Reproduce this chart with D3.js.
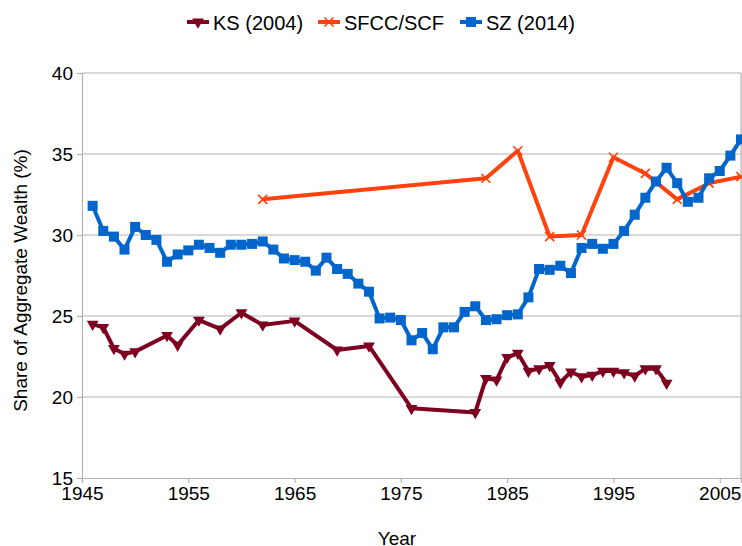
<!DOCTYPE html>
<html><head><meta charset="utf-8">
<script src="https://cdn.jsdelivr.net/npm/d3@7"></script>
<style>body{margin:0;background:#fff}svg{display:block;font-family:"Liberation Sans",Arial,sans-serif}</style>
</head><body><svg id="c" width="742" height="546"></svg>
<script>
const ksYears = [1946,1947,1948,1949,1950,1953,1954,1956,1958,1960,1962,1965,1969,1972,1976,1982,1983,1984,1985,1986,1987,1988,1989,1990,1991,1992,1993,1994,1995,1996,1997,1998,1999,2000];
const ksValues = [24.5,24.3,23.0,22.65,22.8,23.8,23.2,24.75,24.2,25.2,24.45,24.7,22.9,23.15,19.3,19.05,21.15,21.05,22.45,22.7,21.6,21.75,21.95,20.9,21.55,21.25,21.35,21.6,21.6,21.5,21.3,21.75,21.75,20.85];
const scfYears = [1962,1983,1986,1989,1992,1995,1998,2001,2004,2007];
const scfValues = [32.2,33.5,35.2,29.9,30.0,34.8,33.8,32.2,33.2,33.6];
const szYears = d3.range(1946,2008);
const szValues = [31.8,30.25,29.9,29.1,30.5,30.0,29.7,28.35,28.8,29.05,29.4,29.2,28.9,29.4,29.4,29.45,29.6,29.1,28.55,28.45,28.35,27.8,28.6,27.9,27.6,27.0,26.5,24.85,24.9,24.75,23.5,23.95,22.95,24.3,24.3,25.25,25.6,24.75,24.8,25.05,25.1,26.15,27.9,27.85,28.1,27.65,29.2,29.45,29.15,29.45,30.25,31.25,32.3,33.3,34.15,33.2,32.05,32.3,33.5,33.95,34.9,35.9];
const xTicks = [1945,1955,1965,1975,1985,1995,2005];
const yTicks = [15,20,25,30,35,40];
const seriesNames = ["KS (2004)","SFCC/SCF","SZ (2014)"];
const colors = ["#7e0021","#ff420e","#0066cc"];

const svg = d3.select("#c");
const L=82, R=741, T=73, B=478;
const x = d3.scaleLinear().domain([1945,2007]).range([L,R]);
const y = d3.scaleLinear().domain([15,40]).range([B,T]);

// grid
svg.append("g").selectAll("line").data(yTicks.filter(v=>v>15)).join("line")
  .attr("x1",L).attr("x2",R).attr("y1",d=>y(d)).attr("y2",d=>y(d))
  .attr("stroke","#b3b3b3").attr("stroke-width",1.2);
svg.append("line").attr("x1",R).attr("x2",R).attr("y1",T).attr("y2",B)
  .attr("stroke","#b3b3b3").attr("stroke-width",1.2);

// axes
const xAxis = svg.append("g").attr("transform",`translate(0,${B})`)
  .call(d3.axisBottom(x).tickValues(xTicks).tickFormat(d3.format("d")).tickSizeOuter(0).tickSize(5).tickPadding(4));
const yAxis = svg.append("g").attr("transform",`translate(${L},0)`)
  .call(d3.axisLeft(y).tickValues(yTicks).tickSizeOuter(0).tickSize(5).tickPadding(4));
[xAxis,yAxis].forEach(a=>{
  a.select(".domain").attr("stroke","#b3b3b3").attr("stroke-width",1.2);
  a.selectAll(".tick line").attr("stroke","#b3b3b3").attr("stroke-width",1.2);
  a.selectAll("text").attr("font-size",19).attr("fill","#000").attr("font-family","Liberation Sans, Arial, sans-serif");
});
yAxis.selectAll("text").attr("x",-9);

// axis titles
svg.append("text").attr("x",397).attr("y",545).attr("text-anchor","middle")
  .attr("font-size",19).text("Year");
svg.append("text").attr("transform",`translate(27,${(T+B)/2+5}) rotate(-90)`).attr("text-anchor","middle")
  .attr("font-size",19).text("Share of Aggregate Wealth (%)");

const line = d3.line().x(d=>x(d[0])).y(d=>y(d[1]));
const sets = [
  d3.zip(ksYears,ksValues),
  d3.zip(scfYears,scfValues),
  d3.zip(szYears,szValues)
];
const plot = svg.append("g");
const tri = d3.symbol().type(d3.symbolTriangle).size(60);
function marker(g,i,cx,cy){
  if(i===0){
    g.append("path").attr("d",tri()).attr("transform",`translate(${cx},${cy}) rotate(180)`).attr("fill",colors[0]);
  } else if(i===1){
    const s=4.5;
    g.append("path").attr("d",`M${cx-s},${cy-s}L${cx+s},${cy+s}M${cx-s},${cy+s}L${cx+s},${cy-s}`)
      .attr("stroke",colors[1]).attr("stroke-width",1.6).attr("fill","none");
  } else {
    g.append("rect").attr("x",cx-5).attr("y",cy-5).attr("width",10).attr("height",10).attr("fill",colors[2]);
  }
}
sets.forEach((data,i)=>{
  plot.append("path").datum(data).attr("d",line).attr("fill","none")
    .attr("stroke",colors[i]).attr("stroke-width",4).attr("stroke-linejoin","round");
  const g = plot.append("g");
  data.forEach(d=>marker(g,i,x(d[0]),y(d[1])));
});

// legend
const legX = [187,318,460];
const leg = svg.append("g");
seriesNames.forEach((n,i)=>{
  const lx=legX[i], ly=22;
  leg.append("line").attr("x1",lx).attr("x2",lx+22).attr("y1",ly).attr("y2",ly)
    .attr("stroke",colors[i]).attr("stroke-width",4);
  marker(leg,i,lx+11,ly);
  leg.append("text").attr("x",lx+26).attr("y",ly+7.5).attr("font-size",20).text(n);
});
</script></body></html>
